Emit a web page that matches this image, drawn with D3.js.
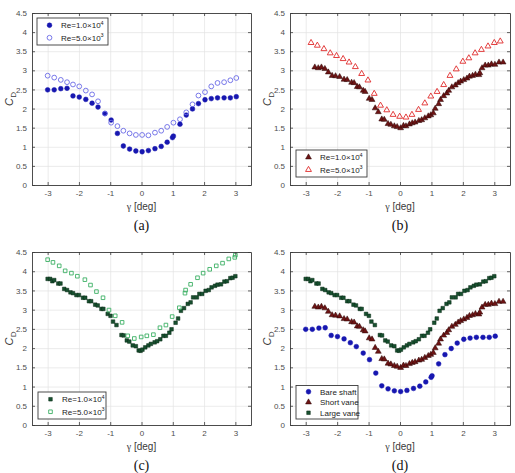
<!DOCTYPE html>
<html>
<head>
<meta charset="utf-8">
<script src="https://cdn.jsdelivr.net/npm/d3@7"></script>
<style>
  body { margin: 0; background: #fff; }
  svg { display: block; }
</style>
</head>
<body>
<div id="chart"></div>
<script>
// ---- data ----
const xTicks = [-3, -2, -1, 0, 1, 2, 3]
const yTicks = [0, 0.5, 1, 1.5, 2, 2.5, 3, 3.5, 4, 4.5]

// bare shaft, Re = 1.0e4
const bareX = [-3.0, -2.79, -2.58, -2.38, -2.19, -1.99, -1.78, -1.58, -1.39, -1.17, -0.97, -0.77, -0.58, -0.38, -0.18, 0.02, 0.22, 0.43, 0.63, 0.82, 0.99, 1.02, 1.23, 1.43, 1.63, 1.82, 2.03, 2.23, 2.43, 2.64, 2.84, 3.03]
const bareY = [2.49, 2.49, 2.52, 2.53, 2.33, 2.30, 2.24, 2.14, 2.04, 1.87, 1.70, 1.35, 1.02, 0.94, 0.89, 0.87, 0.90, 0.95, 1.01, 1.12, 1.24, 1.28, 1.59, 1.83, 1.99, 2.13, 2.23, 2.26, 2.28, 2.28, 2.28, 2.31]
// bare shaft, Re = 5.0e3
const bareLowX = [-3.0, -2.79, -2.58, -2.38, -2.19, -1.99, -1.78, -1.58, -1.39, -1.17, -0.97, -0.77, -0.58, -0.38, -0.18, 0.02, 0.22, 0.43, 0.63, 0.82, 1.02, 1.23, 1.43, 1.63, 1.82, 2.03, 2.23, 2.43, 2.64, 2.84, 3.03]
const bareLowY = [2.86, 2.81, 2.75, 2.69, 2.63, 2.58, 2.47, 2.37, 2.19, 1.87, 1.63, 1.54, 1.42, 1.35, 1.31, 1.31, 1.30, 1.37, 1.42, 1.52, 1.63, 1.72, 1.90, 2.11, 2.34, 2.43, 2.58, 2.67, 2.69, 2.74, 2.80]

// short vane, Re = 1.0e4
const shortX = [-2.71, -2.60, -2.50, -2.39, -2.28, -2.16, -2.05, -1.92, -1.78, -1.68, -1.54, -1.46, -1.36, -1.29, -1.17, -1.11, -0.98, -0.89, -0.79, -0.69, -0.58, -0.50, -0.38, -0.29, -0.18, -0.09, 0.02, 0.11, 0.19, 0.30, 0.39, 0.48, 0.60, 0.69, 0.79, 0.90, 0.98, 1.06, 1.12, 1.23, 1.29, 1.39, 1.49, 1.55, 1.65, 1.76, 1.85, 1.93, 2.03, 2.13, 2.21, 2.31, 2.40, 2.51, 2.54, 2.61, 2.71, 2.81, 2.91, 3.02, 3.15, 3.28]
const shortY = [3.08, 3.06, 3.08, 3.04, 2.95, 2.86, 2.85, 2.83, 2.76, 2.75, 2.68, 2.67, 2.57, 2.56, 2.47, 2.44, 2.26, 2.23, 2.01, 1.91, 1.72, 1.71, 1.60, 1.58, 1.54, 1.52, 1.49, 1.55, 1.54, 1.59, 1.62, 1.64, 1.68, 1.70, 1.75, 1.80, 1.83, 1.88, 2.00, 2.12, 2.23, 2.33, 2.40, 2.47, 2.56, 2.61, 2.67, 2.71, 2.75, 2.79, 2.84, 2.86, 2.89, 2.88, 2.93, 3.06, 3.13, 3.13, 3.16, 3.15, 3.21, 3.21]
// short vane, Re = 5.0e3
const shortLowX = [-2.83, -2.63, -2.42, -2.22, -2.02, -1.81, -1.62, -1.42, -1.22, -1.02, -0.82, -0.62, -0.42, -0.22, -0.01, 0.19, 0.38, 0.59, 0.79, 0.98, 1.18, 1.39, 1.59, 1.79, 2.00, 2.19, 2.39, 2.59, 2.80, 3.00, 3.19]
const shortLowY = [3.72, 3.65, 3.56, 3.45, 3.38, 3.30, 3.21, 3.09, 2.91, 2.74, 2.39, 2.08, 1.96, 1.84, 1.79, 1.77, 1.84, 1.97, 2.14, 2.32, 2.44, 2.62, 2.86, 3.03, 3.23, 3.32, 3.45, 3.54, 3.63, 3.72, 3.76]

// large vane, Re = 1.0e4
const largeX = [-3.0, -2.92, -2.85, -2.79, -2.66, -2.59, -2.47, -2.38, -2.27, -2.19, -2.08, -2.00, -1.87, -1.80, -1.68, -1.61, -1.48, -1.40, -1.28, -1.22, -1.08, -0.99, -0.91, -0.80, -0.64, -0.57, -0.47, -0.39, -0.28, -0.18, -0.09, -0.03, 0.03, 0.12, 0.22, 0.30, 0.42, 0.50, 0.60, 0.70, 0.78, 0.89, 0.96, 1.09, 1.17, 1.26, 1.36, 1.48, 1.57, 1.65, 1.77, 1.85, 1.94, 2.05, 2.15, 2.24, 2.35, 2.43, 2.54, 2.65, 2.73, 2.84, 2.91, 3.00]
const largeY = [3.80, 3.80, 3.74, 3.77, 3.68, 3.68, 3.54, 3.51, 3.45, 3.43, 3.38, 3.38, 3.31, 3.31, 3.22, 3.22, 3.13, 3.11, 3.02, 3.02, 2.89, 2.84, 2.69, 2.60, 2.34, 2.33, 2.20, 2.17, 2.07, 2.05, 1.94, 1.93, 1.96, 2.02, 2.07, 2.11, 2.15, 2.18, 2.23, 2.32, 2.32, 2.40, 2.49, 2.66, 2.77, 2.97, 3.04, 3.15, 3.19, 3.32, 3.32, 3.41, 3.41, 3.49, 3.51, 3.58, 3.62, 3.65, 3.66, 3.73, 3.74, 3.82, 3.83, 3.87]
// large vane, Re = 5.0e3
const largeLowX = [-3.0, -2.83, -2.63, -2.44, -2.24, -2.05, -1.81, -1.63, -1.44, -1.23, -1.04, -0.84, -0.62, -0.44, -0.23, -0.01, 0.17, 0.38, 0.59, 0.78, 0.98, 1.21, 1.39, 1.41, 1.57, 1.79, 1.97, 2.18, 2.39, 2.59, 2.79, 2.98, 3.0]
const largeLowY = [4.30, 4.23, 4.14, 4.01, 3.95, 3.87, 3.78, 3.64, 3.47, 3.31, 2.99, 2.84, 2.67, 2.32, 2.25, 2.29, 2.32, 2.35, 2.53, 2.60, 2.82, 3.05, 3.43, 3.51, 3.66, 3.83, 3.95, 4.05, 4.14, 4.21, 4.32, 4.36, 4.42]

const reHigh = ['Re=1.0\u00d710', '4']
const reLow = ['Re=5.0\u00d710', '3']

// ---- layout ----
const W = 515, H = 473
const sans = "'Liberation Sans', Arial, Helvetica, sans-serif"
const serif = "'Liberation Serif', 'Times New Roman', serif"

const svg = d3.select('#chart').append('svg')
  .attr('width', W)
  .attr('height', H)

const blue = '#1717b0', blueLight = '#6a6ae6'
const maroon = '#6e1414', red = '#e02a2a'
const green = '#17502f', greenLight = '#3cb064'

const panels = [
  {
    box: { l: 32, r: 251, t: 13, b: 185 }, caption: '(a)',
    series: [
      { x: bareX, y: bareY, shape: 'circle', fill: blue, stroke: blue },
      { x: bareLowX, y: bareLowY, shape: 'circle', fill: 'none', stroke: blueLight }
    ],
    legend: { x: 5, y: 5, w: 71, anchor: 'top', rows: [reHigh, reLow] }
  },
  {
    box: { l: 290, r: 510, t: 13, b: 185 }, caption: '(b)',
    series: [
      { x: shortX, y: shortY, shape: 'triangle', fill: maroon, stroke: '#2a0505' },
      { x: shortLowX, y: shortLowY, shape: 'triangle', fill: 'none', stroke: red }
    ],
    legend: { x: 6, y: 8, w: 71, anchor: 'bottom', rows: [reHigh, reLow] }
  },
  {
    box: { l: 32, r: 251, t: 252, b: 425 }, caption: '(c)',
    series: [
      { x: largeX, y: largeY, shape: 'square', fill: green, stroke: '#0a2a16' },
      { x: largeLowX, y: largeLowY, shape: 'square', fill: 'none', stroke: greenLight }
    ],
    legend: { x: 6, y: 6, w: 68, anchor: 'bottom', rows: [reHigh, reLow] }
  },
  {
    box: { l: 290, r: 510, t: 252, b: 425 }, caption: '(d)',
    series: [
      { x: bareX, y: bareY, shape: 'circle', fill: blue, stroke: blue },
      { x: shortX, y: shortY, shape: 'triangle', fill: maroon, stroke: '#2a0505' },
      { x: largeX, y: largeY, shape: 'square', fill: green, stroke: '#0a2a16' }
    ],
    legend: { x: 6, y: 6, w: 62, anchor: 'bottom', rows: [['Bare shaft'], ['Short vane'], ['Large vane']] }
  }
]

const symbols = {
  circle: d3.symbol().type(d3.symbolCircle).size(18),
  triangle: d3.symbol().type(d3.symbolTriangle).size(15),
  square: d3.symbol().type(d3.symbolSquare).size(13)
}

function drawMarker(g, s, cx, cy) {
  g.append('path')
    .attr('d', symbols[s.shape]())
    .attr('transform', `translate(${cx},${cy})`)
    .attr('fill', s.fill)
    .attr('stroke', s.stroke)
    .attr('stroke-width', s.fill === 'none' ? 0.9 : 0.5)
}

const fmt = d => String(d)

panels.forEach(p => {
  const { l, r, t, b } = p.box
  const x = d3.scaleLinear().domain([-3.5, 3.5]).range([l, r])
  const y = d3.scaleLinear().domain([0, 4.5]).range([b, t])
  const g = svg.append('g')

  // grid
  g.append('g')
    .attr('transform', `translate(0,${b})`)
    .call(d3.axisBottom(x).tickValues(xTicks).tickSize(-(b - t)).tickFormat(''))
    .call(a => a.select('.domain').remove())
    .selectAll('line').attr('stroke', '#e3e3e3').attr('stroke-width', 0.7)
  g.append('g')
    .attr('transform', `translate(${l},0)`)
    .call(d3.axisLeft(y).tickValues(yTicks).tickSize(-(r - l)).tickFormat(''))
    .call(a => a.select('.domain').remove())
    .selectAll('line').attr('stroke', '#e3e3e3').attr('stroke-width', 0.7)

  // data
  p.series.forEach(s => {
    const dg = g.append('g')
    s.x.forEach((v, i) => drawMarker(dg, s, x(v), y(s.y[i])))
  })

  // axes with inward ticks
  const axisStyle = a => {
    a.attr('font-family', sans).attr('font-size', 8)
    a.select('.domain').attr('stroke', '#3a3a3a').attr('stroke-width', 0.9)
    a.selectAll('.tick line').attr('stroke', '#3a3a3a').attr('stroke-width', 0.8)
    a.selectAll('.tick text').attr('fill', '#4d4d4d')
  }
  g.append('g').attr('transform', `translate(0,${b})`)
    .call(d3.axisBottom(x).tickValues(xTicks).tickSize(-3).tickSizeOuter(0).tickPadding(5).tickFormat(fmt))
    .call(axisStyle)
  g.append('g').attr('transform', `translate(0,${t})`)
    .call(d3.axisTop(x).tickValues(xTicks).tickSize(-3).tickSizeOuter(0).tickFormat(''))
    .call(axisStyle)
  g.append('g').attr('transform', `translate(${l},0)`)
    .call(d3.axisLeft(y).tickValues(yTicks).tickSize(-3).tickSizeOuter(0).tickPadding(5).tickFormat(fmt))
    .call(axisStyle)
  g.append('g').attr('transform', `translate(${r},0)`)
    .call(d3.axisRight(y).tickValues(yTicks).tickSize(-3).tickSizeOuter(0).tickFormat(''))
    .call(axisStyle)

  // axis labels
  const xl = g.append('text')
    .attr('x', (l + r) / 2).attr('y', b + 25)
    .attr('text-anchor', 'middle')
    .attr('fill', '#3a3a3a')
    .attr('font-family', sans).attr('font-size', 10)
  xl.append('tspan').attr('font-family', serif).text('\u03b3')
  xl.append('tspan').text(' [deg]')

  const yl = g.append('text')
    .attr('transform', `translate(${l - 19},${(t + b) / 2}) rotate(-90)`)
    .attr('text-anchor', 'middle')
    .attr('fill', '#3a3a3a')
    .attr('font-family', sans).attr('font-size', 11)
  yl.append('tspan').attr('font-style', 'italic').text('C')
  yl.append('tspan').attr('dy', 3).attr('dx', 0.5).attr('font-size', 8).text('D')

  g.append('text')
    .attr('x', (l + r) / 2).attr('y', b + 45)
    .attr('text-anchor', 'middle')
    .attr('fill', '#111')
    .attr('font-family', serif).attr('font-size', 14)
    .text(p.caption)

  // legend
  const lg = p.legend
  const rowH = lg.rows.length > 2 ? 10.5 : 12.5
  const lh = lg.rows.length * rowH + 2
  const lx = l + lg.x
  const ly = lg.anchor === 'top' ? t + lg.y : b - lg.y - lh
  const leg = g.append('g')
  leg.append('rect')
    .attr('x', lx).attr('y', ly).attr('width', lg.w).attr('height', lh)
    .attr('fill', '#fff').attr('stroke', '#3a3a3a').attr('stroke-width', 0.9)
  lg.rows.forEach((row, i) => {
    const cy = ly + 1 + rowH * (i + 0.5)
    drawMarker(leg, p.series[i], lx + 12.5, cy)
    const tx = leg.append('text')
      .attr('x', lx + 24).attr('y', cy + 3)
      .attr('fill', '#222')
      .attr('font-family', sans).attr('font-size', 8)
    tx.append('tspan').text(row[0])
    if (row[1]) tx.append('tspan').attr('dy', -3.5).attr('font-size', 5.5).text(row[1])
  })
})
</script>
</body>
</html>
